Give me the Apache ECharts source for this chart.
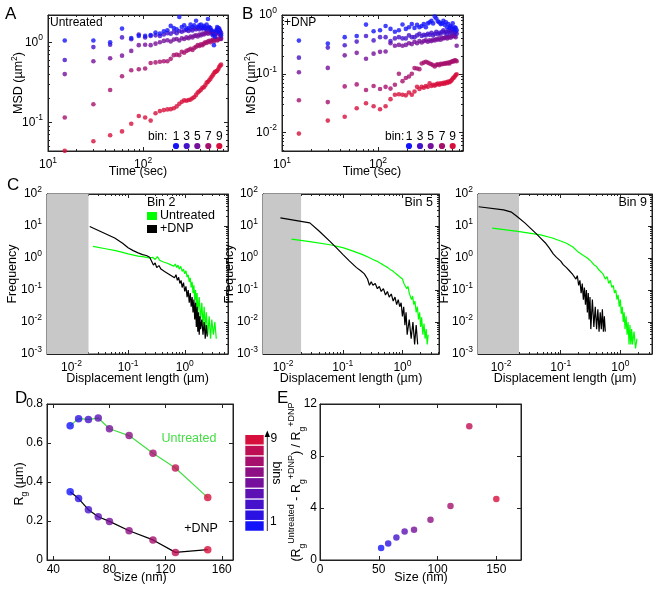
<!DOCTYPE html>
<html><head><meta charset="utf-8">
<script src="https://cdn.jsdelivr.net/npm/echarts@6/dist/echarts.min.js"></script>
<style>html,body{margin:0;padding:0;background:#fff}#c{width:657px;height:592px}</style>
</head><body><div id="c"></div>
<script>
// ---------------- DATA ----------------
var times = [15,30,45,60,75,90,105,120,135,150,165,180,195,210,225,240,255,270,285,300,315,330,345,360,375,390,405,420,435,450,465,480,495,510,525,540,555,570,585,600,615,630,645,660];

// Panel A (Untreated) MSD, bins 1,3,5,7,9
var msdA_bin1 = [1.05,1.05,1.0,1.48,1.13,1.2,1.2,1.23,1.32,1.28,1.37,1.41,1.6,1.51,1.45,2.07,1.55,1.63,1.48,1.51,1.66,1.55,1.63,1.86,1.55,1.63,1.66,1.51,1.6,1.48,1.66,1.95,1.55,1.51,1.41,1.22,0.92,1.17,1.41,1.55,1.35,1.48,1.35,1.22];
var msdA_bin3 = [0.6,0.87,0.93,1.15,1.09,1.25,1.15,1.2,1.22,1.2,1.25,1.3,1.28,1.35,1.3,1.38,1.35,1.4,1.42,1.38,1.45,1.4,1.48,1.45,1.5,1.45,1.52,1.48,1.55,1.5,1.45,1.52,1.48,1.42,1.38,1.35,1.3,1.25,1.35,1.45,1.5,1.42,1.38,1.3];
var msdA_bin5 = [0.4,0.58,0.63,0.68,0.78,0.92,0.93,0.92,0.96,1.0,1.04,1.06,1.02,1.08,1.1,1.05,1.12,1.1,1.15,1.12,1.18,1.15,1.2,1.22,1.18,1.25,1.22,1.28,1.25,1.3,1.32,1.28,1.35,1.3,1.32,1.28,1.25,1.3,1.35,1.32,1.28,1.3,1.25,1.1];
var msdA_bin7 = [0.115,0.168,0.253,0.376,0.447,0.46,0.47,0.55,0.56,0.57,0.58,0.58,0.62,0.69,0.70,0.69,0.76,0.74,0.78,0.80,0.83,0.80,0.85,0.88,0.92,0.90,0.94,0.92,0.96,1.0,0.98,1.02,1.04,1.0,1.05,1.07,1.03,1.08,1.1,1.05,1.08,1.12,1.1,1.14];
var msdA_bin9 = [0.044,0.058,0.069,0.077,0.096,0.12,0.115,0.105,0.13,0.138,0.142,0.145,0.146,0.15,0.158,0.17,0.18,0.188,0.186,0.19,0.192,0.2,0.207,0.22,0.235,0.244,0.255,0.27,0.274,0.29,0.313,0.32,0.335,0.351,0.37,0.387,0.41,0.426,0.43,0.44,0.46,0.49,0.51,0.525];

// Panel B (+DNP) MSD, bins 1,3,5,7,9
var msdB_bin1 = [0.367,0.326,0.42,0.44,0.686,0.53,0.55,0.65,0.58,0.52,0.55,0.69,0.58,0.62,0.7,0.6,0.68,0.62,0.65,0.7,0.62,0.72,0.75,0.8,0.72,0.94,0.87,0.78,0.75,0.7,0.72,0.8,0.68,0.75,0.62,0.7,0.6,0.65,0.62,0.72,0.58,0.62,0.6,0.55];
var msdB_bin3 = [0.188,0.279,0.305,0.353,0.44,0.37,0.42,0.42,0.36,0.4,0.42,0.4,0.4,0.45,0.42,0.42,0.45,0.48,0.44,0.46,0.45,0.48,0.46,0.5,0.45,0.48,0.52,0.47,0.5,0.48,0.52,0.55,0.5,0.52,0.48,0.55,0.52,0.5,0.56,0.52,0.55,0.5,0.52,0.48];
var msdB_bin5 = [0.106,0.126,0.206,0.227,0.18,0.22,0.236,0.24,0.33,0.3,0.31,0.3,0.31,0.33,0.32,0.35,0.33,0.36,0.34,0.36,0.37,0.35,0.37,0.36,0.38,0.37,0.39,0.38,0.4,0.38,0.41,0.4,0.41,0.42,0.4,0.42,0.43,0.41,0.44,0.43,0.45,0.44,0.42,0.3];
var msdB_bin7 = [0.0355,0.033,0.061,0.066,0.053,0.062,0.055,0.06,0.056,0.065,0.1,0.075,0.085,0.09,0.1,0.125,0.123,0.12,0.15,0.155,0.16,0.155,0.15,0.145,0.14,0.133,0.142,0.145,0.14,0.148,0.145,0.15,0.148,0.152,0.15,0.155,0.15,0.158,0.16,0.165,0.162,0.17,0.168,0.163];
var msdB_bin9 = [0.0096,0.016,0.0186,0.026,0.0315,0.028,0.025,0.028,0.037,0.044,0.045,0.044,0.043,0.048,0.044,0.05,0.06,0.055,0.06,0.058,0.062,0.06,0.069,0.062,0.065,0.063,0.066,0.068,0.065,0.069,0.067,0.07,0.068,0.072,0.07,0.074,0.072,0.075,0.078,0.083,0.086,0.09,0.095,0.098];

// Panel C: displacement histograms [length (um), frequency]
var c2_untreated = [[0.024,2.3],[0.04,1.95],[0.06,1.7],[0.08,1.5],[0.1,1.35],[0.12,1.25],[0.15,1.15],[0.18,1.1],[0.21,1.05],[0.24,1.0],[0.27,1.05],[0.3,0.9],[0.33,1.1],[0.36,0.85],[0.39,0.95],[0.42,0.75],[0.45,0.85],[0.48,0.7],[0.52,0.8],[0.56,0.62],[0.6,0.7],[0.64,0.55],[0.68,0.65],[0.72,0.5],[0.76,0.6],[0.8,0.45],[0.85,0.55],[0.9,0.38],[0.95,0.45],[1.0,0.32],[1.05,0.4],[1.1,0.25],[1.15,0.3],[1.2,0.18],[1.25,0.24],[1.3,0.12],[1.35,0.18],[1.4,0.08],[1.45,0.14],[1.5,0.05],[1.55,0.1],[1.6,0.03],[1.65,0.08],[1.7,0.02],[1.8,0.06],[1.9,0.012],[2.0,0.04],[2.1,0.008],[2.2,0.03],[2.3,0.006],[2.4,0.02],[2.55,0.004],[2.7,0.015],[2.85,0.003],[3.0,0.012],[3.2,0.004],[3.4,0.01],[3.6,0.003]];
var c2_dnp = [[0.021,9.7],[0.058,4.2],[0.08,2.9],[0.1,2.1],[0.123,1.7],[0.15,1.45],[0.18,1.28],[0.21,1.2],[0.24,1.05],[0.26,0.95],[0.28,0.6],[0.3,0.7],[0.32,0.5],[0.35,0.58],[0.38,0.45],[0.41,0.5],[0.44,0.38],[0.47,0.42],[0.5,0.33],[0.54,0.38],[0.58,0.28],[0.62,0.32],[0.66,0.24],[0.7,0.3],[0.74,0.2],[0.78,0.25],[0.82,0.16],[0.86,0.2],[0.9,0.12],[0.95,0.17],[1.0,0.09],[1.05,0.13],[1.1,0.06],[1.15,0.1],[1.2,0.04],[1.25,0.08],[1.3,0.03],[1.35,0.06],[1.4,0.02],[1.45,0.05],[1.5,0.012],[1.55,0.04],[1.6,0.007],[1.65,0.03],[1.7,0.005],[1.75,0.02],[1.8,0.004],[1.85,0.015],[1.9,0.006],[2.0,0.012],[2.1,0.004],[2.2,0.01],[2.3,0.003],[2.4,0.008],[2.5,0.0035]];
var c5_untreated = [[0.0138,3.9],[0.03,3.2],[0.061,2.6],[0.1,2.1],[0.13,1.8],[0.17,1.5],[0.22,1.25],[0.27,1.05],[0.32,0.9],[0.37,0.8],[0.42,0.7],[0.47,0.62],[0.52,0.55],[0.57,0.5],[0.62,0.44],[0.68,0.4],[0.74,0.35],[0.8,0.31],[0.86,0.27],[0.92,0.25],[1.0,0.22],[1.06,0.16],[1.12,0.18],[1.18,0.11],[1.24,0.13],[1.3,0.08],[1.36,0.09],[1.42,0.05],[1.48,0.065],[1.55,0.035],[1.62,0.045],[1.7,0.02],[1.78,0.03],[1.86,0.012],[1.94,0.02],[2.02,0.007],[2.1,0.014],[2.2,0.004],[2.3,0.009],[2.4,0.003],[2.5,0.006],[2.6,0.002],[2.7,0.004]];
var c5_dnp = [[0.009,18],[0.028,12.5],[0.04,7],[0.061,3.3],[0.08,2.0],[0.1,1.3],[0.13,0.8],[0.17,0.5],[0.2,0.4],[0.23,0.32],[0.26,0.22],[0.28,0.14],[0.3,0.18],[0.32,0.14],[0.35,0.16],[0.38,0.11],[0.41,0.13],[0.44,0.09],[0.48,0.11],[0.52,0.07],[0.56,0.09],[0.6,0.06],[0.65,0.075],[0.7,0.045],[0.75,0.06],[0.8,0.035],[0.85,0.05],[0.9,0.03],[0.95,0.04],[1.0,0.015],[1.05,0.03],[1.1,0.008],[1.15,0.02],[1.2,0.004],[1.3,0.012],[1.4,0.003],[1.5,0.01],[1.6,0.002],[1.7,0.008],[1.8,0.002]];
var c9_untreated = [[0.0071,8.6],[0.019,6.8],[0.046,5.3],[0.07,4.3],[0.1,3.4],[0.125,2.9],[0.16,2.2],[0.2,1.5],[0.24,1.2],[0.28,1.0],[0.32,0.8],[0.36,0.62],[0.4,0.54],[0.44,0.42],[0.48,0.36],[0.52,0.3],[0.56,0.22],[0.6,0.26],[0.64,0.16],[0.68,0.2],[0.72,0.12],[0.76,0.14],[0.8,0.08],[0.84,0.1],[0.88,0.05],[0.92,0.07],[0.96,0.03],[1.0,0.05],[1.04,0.018],[1.08,0.03],[1.12,0.01],[1.16,0.02],[1.2,0.006],[1.25,0.015],[1.3,0.004],[1.35,0.01],[1.4,0.002],[1.45,0.008],[1.5,0.002],[1.55,0.006],[1.6,0.002],[1.7,0.005],[1.8,0.0015],[1.9,0.003]];
var c9_dnp = [[0.0042,40],[0.011,32],[0.015,27],[0.019,19],[0.025,12.5],[0.031,8.6],[0.038,6],[0.046,4.2],[0.055,3.0],[0.065,2.0],[0.075,1.35],[0.085,1.05],[0.1,0.8],[0.11,0.62],[0.125,0.5],[0.14,0.4],[0.16,0.3],[0.18,0.22],[0.19,0.28],[0.2,0.14],[0.21,0.2],[0.22,0.08],[0.23,0.16],[0.24,0.05],[0.25,0.12],[0.26,0.035],[0.27,0.1],[0.28,0.02],[0.29,0.08],[0.3,0.012],[0.31,0.06],[0.32,0.006],[0.34,0.05],[0.36,0.007],[0.38,0.03],[0.4,0.006],[0.42,0.025],[0.44,0.005],[0.46,0.02],[0.48,0.006],[0.5,0.025],[0.52,0.005],[0.54,0.015],[0.56,0.005]];

// Panel D / E
var binSizes = [52,58,65,72,80,94,111,127,150];
var rgUntreated = [0.689,0.725,0.721,0.728,0.673,0.638,0.547,0.472,0.320];
var rgDNP = [0.350,0.315,0.258,0.222,0.198,0.150,0.103,0.039,0.053];
var rgRatio = [0.92,1.26,1.74,2.2,2.33,3.1,4.15,10.28,4.69];

var binLabels = ['1','3','5','7','9'];
var sizeTicksD = [40,80,120,160];
var sizeTicksE = [0,50,100,150];

// ---------------- STYLE ----------------
var palette = ['#1414fa','#2c12e2','#4511cb','#5d10b3','#760f9b','#8e0f83','#a60f6c','#bf0f54','#d70f3c'];
var F = '"Liberation Sans", Arial, Helvetica, sans-serif';
var AXC = '#222';
var GREEN = '#00ff00';
var GREEN_D = '#44dd44';
var TS = 12.5; // axis title size

function logFmt(v){ var e=Math.log10(v); var r=Math.round(e); if(Math.abs(e-r)>0.02) return ''; return '{b|10}{s|'+(r<0?'-'+(-r):r)+'}'; }
var richSup = { b:{fontSize:12,fontFamily:F,color:'#000',lineHeight:18}, s:{fontSize:8.5,fontFamily:F,color:'#000',verticalAlign:'top'} };

function mkAxis(dim, g, type, min, max, mirror, opt){
  opt = opt || {};
  var a = {type:type, gridIndex:g, min:min, max:max,
    position: dim==='x' ? (mirror?'top':'bottom') : (mirror?'right':'left'),
    axisLine:{show:true,onZero:false,lineStyle:{color:AXC,width:1}},
    axisTick:{show:true,inside:true,length:4,lineStyle:{color:AXC,width:1}},
    splitLine:{show:false}, minorTick:{show:false}, minorSplitLine:{show:false},
    axisLabel:{show:!mirror,color:'#000',fontSize:12,fontFamily:F,margin:(opt.margin!=null?opt.margin:5),showMinLabel:true,showMaxLabel:true,hideOverlap:false}};
  if(type==='log'){ a.logBase=10; a.axisLabel.formatter=logFmt; a.axisLabel.rich=richSup; }
  if(opt.interval!=null) a.interval=opt.interval;
  if(opt.custom){ a.axisTick.customValues=opt.custom; a.axisLabel.customValues=opt.custom; }
  if(opt.fmt) a.axisLabel.formatter=opt.fmt;
  return a;
}
// minor (log) tick positions between min and max
function minorVals(min, max){
  var out=[]; for(var e=Math.floor(Math.log10(min)); e<=Math.ceil(Math.log10(max)); e++){
    for(var m=2;m<=9;m++){ var v=m*Math.pow(10,e); if(v>min*1.001 && v<max*0.999) out.push(+v.toPrecision(6)); } }
  return out;
}
function mkMinor(dim, g, min, max, mirror){
  return {type:'log', logBase:10, gridIndex:g, min:min, max:max,
    position: dim==='x' ? (mirror?'top':'bottom') : (mirror?'right':'left'),
    axisLine:{show:false}, splitLine:{show:false}, axisLabel:{show:false},
    axisTick:{show:true, inside:true, length:2, customValues:minorVals(min,max), lineStyle:{color:AXC,width:1}}};
}

var gridsDef = [
  {left:48, top:15, width:180, height:136},
  {left:282, top:15, width:181, height:136},
  {left:47, top:194, width:181, height:160},
  {left:263, top:194, width:176, height:160},
  {left:478, top:194, width:174, height:160},
  {left:47, top:404, width:186, height:156},
  {left:320, top:404, width:201, height:156}
];
var grid = gridsDef.map(function(g){ return {left:g.left, top:g.top, width:g.width, height:g.height, show:true, borderColor:AXC, borderWidth:1, backgroundColor:'transparent', containLabel:false}; });

var axDefs = [
  {x:['log',10,780], y:['log',0.0438,2.19]},
  {x:['log',10,768], y:['log',0.00486,1]},
  {x:['log',0.0037,5.8], y:['log',0.001,100]},
  {x:['log',0.0046,4.1], y:['log',0.001,100]},
  {x:['log',0.0041,3.4], y:['log',0.001,100]},
  {x:['value',35.5,168,{custom:sizeTicksD,margin:4}], y:['value',0,0.8,{interval:0.2,margin:4,fmt:function(v){return v===0?'0':v.toFixed(1);}}]},
  {x:['value',0,171,{custom:sizeTicksE,margin:4}], y:['value',0,12,{interval:4,margin:3}]}
];
var xAxis=[], yAxis=[];
axDefs.forEach(function(d,g){
  xAxis.push(mkAxis('x',g,d.x[0],d.x[1],d.x[2],false,d.x[3]));
  xAxis.push(mkAxis('x',g,d.x[0],d.x[1],d.x[2],true,d.x[3]));
  yAxis.push(mkAxis('y',g,d.y[0],d.y[1],d.y[2],false,d.y[3]));
  yAxis.push(mkAxis('y',g,d.y[0],d.y[1],d.y[2],true,d.y[3]));
});
axDefs.forEach(function(d,g){
  if(d.x[0]==='log'){ xAxis.push(mkMinor('x',g,d.x[1],d.x[2],false)); xAxis.push(mkMinor('x',g,d.x[1],d.x[2],true)); }
  if(d.y[0]==='log'){ yAxis.push(mkMinor('y',g,d.y[1],d.y[2],false)); yAxis.push(mkMinor('y',g,d.y[1],d.y[2],true)); }
});

var series = [];
function msdSeries(g, arr, color){
  series.push({type:'scatter', xAxisIndex:2*g, yAxisIndex:2*g, symbolSize:4.6, itemStyle:{color:color}, z:3,
    data: times.map(function(t,i){ return [t, arr[i]]; })});
}
[[msdA_bin9,8],[msdA_bin7,6],[msdA_bin5,4],[msdA_bin3,2],[msdA_bin1,0]].forEach(function(p){ msdSeries(0,p[0],palette[p[1]]); });
[[msdB_bin9,8],[msdB_bin7,6],[msdB_bin5,4],[msdB_bin3,2],[msdB_bin1,0]].forEach(function(p){ msdSeries(1,p[0],palette[p[1]]); });

var cSets = [[c2_untreated,c2_dnp],[c5_untreated,c5_dnp],[c9_untreated,c9_dnp]];
cSets.forEach(function(s,k){
  var g = 2+k; var xmin = axDefs[g].x[1];
  series.push({type:'line', xAxisIndex:2*g, yAxisIndex:2*g, showSymbol:false, symbol:'none', z:3,
    lineStyle:{color:GREEN,width:1.2}, data:s[0],
    markArea:{silent:true, z:1, itemStyle:{color:'#c8c8c8'}, data:[[{coord:[xmin,0.001]},{coord:[0.02,100]}]]}});
  series.push({type:'line', xAxisIndex:2*g, yAxisIndex:2*g, showSymbol:false, symbol:'none', z:4,
    lineStyle:{color:'#000',width:1.2}, data:s[1]});
});

function ptsColored(xs, ys){ return xs.map(function(x,i){ return {value:[x,ys[i]], itemStyle:{color:palette[i]}}; }); }
series.push({type:'line', xAxisIndex:10, yAxisIndex:10, showSymbol:false, symbol:'none', lineStyle:{color:GREEN_D,width:1.2}, z:2,
  data: binSizes.map(function(x,i){return [x,rgUntreated[i]];})});
series.push({type:'line', xAxisIndex:10, yAxisIndex:10, showSymbol:false, symbol:'none', lineStyle:{color:'#000',width:1.2}, z:2,
  data: binSizes.map(function(x,i){return [x,rgDNP[i]];})});
series.push({type:'scatter', xAxisIndex:10, yAxisIndex:10, symbolSize:7.5, z:3, data: ptsColored(binSizes, rgUntreated)});
series.push({type:'scatter', xAxisIndex:10, yAxisIndex:10, symbolSize:7.5, z:3, data: ptsColored(binSizes, rgDNP)});
series.push({type:'scatter', xAxisIndex:12, yAxisIndex:12, symbolSize:6.5, z:3, data: ptsColored(binSizes, rgRatio)});

// ---------------- TEXT / ANNOTATIONS ----------------
var graphic = [];
function T(text, x, y, o){
  o = o || {};
  graphic.push({type:'text', x:x, y:y, rotation:o.rot||0, z:10, silent:true,
    style:{text:text, fontSize:o.size||12, fontFamily:F, fill:o.color||'#000',
      align:o.align||'center', verticalAlign:o.va||'middle', rich:o.rich, lineHeight:o.lh}});
}
var richLbl = { s:{fontSize:8.5,fontFamily:F,verticalAlign:'top'}, sb:{fontSize:8.5,fontFamily:F,verticalAlign:'bottom'}, sp:{fontSize:9,fontFamily:F,verticalAlign:'top'} };

T('A',5,14,{size:17,align:'left'});
T('B',242,14,{size:17,align:'left'});
T('C',7,185,{size:17,align:'left'});
T('D',15,398,{size:17,align:'left'});
T('E',277,398,{size:17,align:'left'});

T('MSD (\u00b5m{s|2})',19,83,{rot:Math.PI/2,rich:richLbl,lh:18,size:TS});
T('MSD (\u00b5m{s|2})',252,83,{rot:Math.PI/2,rich:richLbl,lh:18,size:TS});
T('Time (sec)',138,172,{size:TS});
T('Time (sec)',372,172,{size:TS});
T('Untreated',50,23,{align:'left'});
T('+DNP',284,23,{align:'left'});

// bin legends in A and B
var legA = {tx:148, nx:[176,186.7,197.3,208.3,219.3], ty:137, dy:146};
var legB = {tx:385, nx:[409,420,430.7,442,452.7], ty:137, dy:146};
[legA,legB].forEach(function(L){
  T('bin:',L.tx,L.ty,{align:'left'});
  binLabels.forEach(function(b,i){
    T(b,L.nx[i],L.ty);
    graphic.push({type:'circle', shape:{cx:L.nx[i], cy:L.dy, r:3.1}, style:{fill:palette[2*i]}, z:10, silent:true});
  });
});

// Panel C labels
[[13,137.5],[230,351],[445,565]].forEach(function(p){
  T('Frequency',p[0],274,{rot:Math.PI/2,size:TS});
  T('Displacement length (\u00b5m)',p[1],379,{size:TS});
});
T('Bin 2',147,203,{align:'left',size:TS});
graphic.push({type:'rect', shape:{x:147,y:212,width:10,height:8}, style:{fill:GREEN}, z:10, silent:true});
T('Untreated',160,216,{align:'left',size:TS});
graphic.push({type:'rect', shape:{x:147,y:225,width:10,height:8}, style:{fill:'#000'}, z:10, silent:true});
T('+DNP',160,229,{align:'left',size:TS});
T('Bin 5',433,203,{align:'right',size:TS});
T('Bin 9',647,203,{align:'right',size:TS});

// Panel D labels
T('R{sb|g} (\u00b5m)',20,484,{rot:Math.PI/2,rich:richLbl,lh:18,size:TS});
T('Size (nm)',140,578,{size:TS});
T('Untreated',189,439,{color:GREEN_D,size:TS});
T('+DNP',201,529,{size:TS});

// colorbar
for (var k=0;k<9;k++){
  graphic.push({type:'rect', shape:{x:245.3, y:435+(8-k)*10.78, width:18.4, height:9.5}, style:{fill:palette[k]}, z:10, silent:true});
}
graphic.push({type:'line', shape:{x1:267.3,y1:531,x2:267.3,y2:435}, style:{stroke:'#333',lineWidth:1}, z:10, silent:true});
graphic.push({type:'polygon', shape:{points:[[264.6,437],[270,437],[267.3,430.5]]}, style:{fill:'#000'}, z:10, silent:true});
T('9',270.5,438.5,{align:'left'});
T('1',270,522,{align:'left'});
T('bins',276,473,{rot:-Math.PI/2,size:TS});

// Panel E labels
T('(R{sb|g}{sp|Untreated} - R{sb|g}{sp|+DNP}) / R{sb|g}{sp|+DNP}',297,482,{rot:Math.PI/2,rich:richLbl,lh:20,size:TS});
T('Size (nm)',421,578,{size:TS});

var chart = echarts.init(document.getElementById('c'), null, {renderer:'canvas'});
chart.setOption({animation:false, backgroundColor:'#fff', grid:grid, xAxis:xAxis, yAxis:yAxis, series:series, graphic:graphic});
</script></body></html>
